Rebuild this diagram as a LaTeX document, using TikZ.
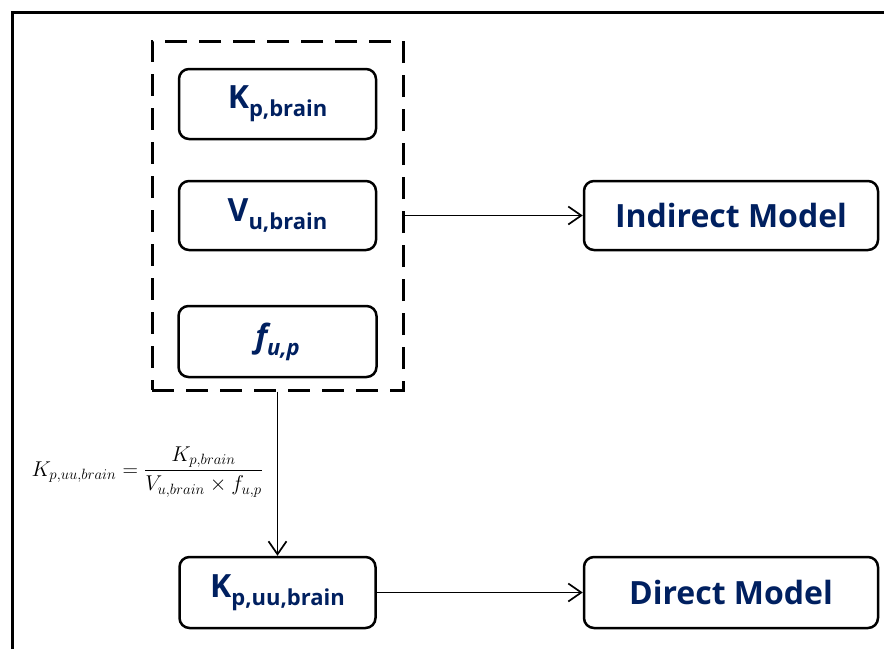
\documentclass[tikz,border=0pt]{standalone}
\usepackage{amsmath}
\usepackage{fontspec}
\newfontfamily\boxfont{Open Sans}
\usetikzlibrary{arrows.meta}
\definecolor{navy}{HTML}{002060}
\newcommand\lbl[2]{#1\raisebox{-8pt}{\fontsize{22}{24}\selectfont #2}}
\tikzset{
  box/.style={draw=black, line width=2.5pt, rounded corners=10pt, fill=white,
    text=navy, font=\boxfont\bfseries\fontsize{32}{38}\selectfont, inner sep=0pt, align=center},
  grpbox/.style={draw=black, line width=3pt, dash pattern=on 22pt off 12pt, inner sep=0pt},
  conn/.style={line width=1.7pt, -{Straight Barb[length=13pt,width=18pt,line width=1.7pt]}},
}
\begin{document}
\begin{tikzpicture}[x=1pt,y=-1pt]
\useasboundingbox (0,0) rectangle (884,649);
\draw[line width=3pt] (12.5,649) -- (12.5,12.5) -- (884,12.5);
\node[grpbox, minimum width=251pt, minimum height=349pt] (grp) at (277.5,215.5) {};
\node[box, minimum width=197pt, minimum height=70pt] (kp) at (277.5,104) {\lbl{K}{p,brain}};
\node[box, minimum width=197pt, minimum height=69pt] (vu) at (277.5,215.5) {\lbl{V}{u,brain}};
\node[box, minimum width=198pt, minimum height=71pt] (fu) at (277.5,341.5) {\itshape\lbl{f}{u,p}};
\node[box, minimum width=196pt, minimum height=71pt] (kpuu) at (277.5,592.5) {\lbl{K}{p,uu,brain}};
\node[box, minimum width=294pt, minimum height=69pt] (ind) at (731,215.5) {Indirect Model};
\node[box, minimum width=294pt, minimum height=71pt] (dir) at (731,592.5) {Direct Model};
\node[text=black, inner sep=0pt] (eq) at (147.5,472)
  {\scalebox{1.24}{\fontsize{17.28}{20}\selectfont$K_{p,uu,brain} = \dfrac{K_{p,brain}}{V_{u,brain}\times f_{u,p}}$}};
\draw[conn] (grp.east) -- (ind.west);
\draw[conn] (grp.south) -- (kpuu.north);
\draw[conn] (kpuu.east) -- (dir.west);
\end{tikzpicture}
\end{document}
